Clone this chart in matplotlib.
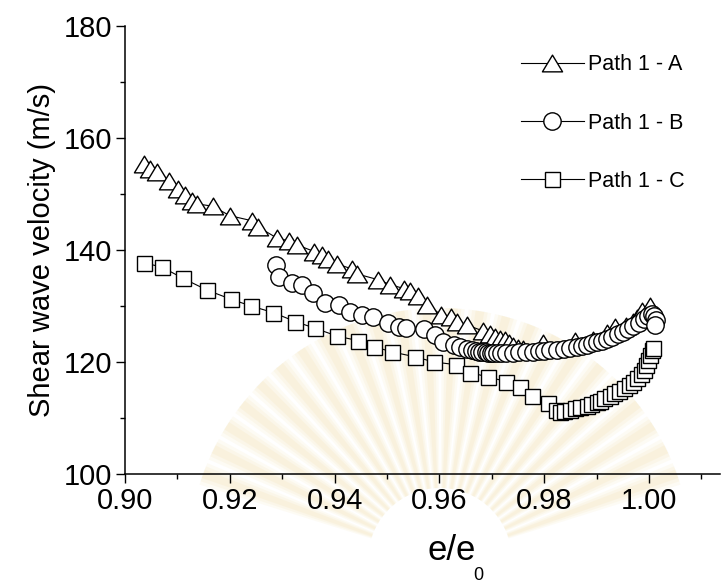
import numpy as np
import matplotlib
matplotlib.use("Agg")
import matplotlib.pyplot as plt
from matplotlib.path import Path
from matplotlib.patches import Wedge
from matplotlib.ticker import MultipleLocator

plt.rcParams['font.family'] = ['Liberation Sans', 'DejaVu Sans']

# Path 1 - A (triangles)
a_ratio = [0.9036, 0.9048, 0.9062, 0.9084, 0.9102, 0.9115, 0.9127, 0.9137, 0.9167,
           0.9200, 0.9242, 0.9254, 0.9290, 0.9313, 0.9328, 0.9361, 0.9375, 0.9388,
           0.9404, 0.9433, 0.9443, 0.9482, 0.9506, 0.9532, 0.9544, 0.9560, 0.9576,
           0.9604, 0.9623, 0.9633, 0.9652, 0.9684, 0.9697, 0.9706, 0.9715, 0.9725,
           0.9733, 0.9741, 0.9750, 0.9760, 0.9798, 0.9859, 0.9894, 0.9919, 0.9935,
           0.9957, 0.9970, 0.9977, 0.9986, 1.0001]
a_vs = [155.3, 154.4, 153.9, 152.2, 150.9, 149.7, 148.8, 148.2, 147.8,
        146.1, 145.2, 144.1, 142.1, 141.6, 140.9, 139.7, 139.0, 138.3,
        137.5, 136.6, 135.7, 134.7, 133.8, 133.1, 132.6, 131.7, 130.2,
        128.4, 128.1, 127.1, 126.6, 125.5, 125.0, 124.5, 124.1, 123.9,
        123.3, 122.9, 122.5, 122.3, 123.3, 123.7, 124.0, 125.2, 126.3,
        126.4, 127.2, 127.8, 129.1, 130.0]

# Path 1 - B (circles)
b_ratio = [0.9288, 0.9293, 0.9318, 0.9337, 0.9359, 0.9382, 0.9409, 0.9429, 0.9452,
           0.9474, 0.9501, 0.9522, 0.9536, 0.9571, 0.9592, 0.9607, 0.9627, 0.9640,
           0.9652, 0.9662, 0.9670, 0.9676, 0.9682, 0.9688, 0.9693, 0.9698, 0.9703,
           0.9710, 0.9718, 0.9728, 0.9740, 0.9752, 0.9765, 0.9778, 0.9790, 0.9800,
           0.9812, 0.9825, 0.9838, 0.9850, 0.9862, 0.9872, 0.9882, 0.9892, 0.9900,
           0.9910, 0.9920, 0.9930, 0.9940, 0.9950, 0.9960, 0.9970, 0.9980, 0.9990,
           0.9998, 1.0005, 1.0010, 1.0013, 1.0012]
b_vs = [137.3, 135.2, 134.0, 133.7, 132.3, 130.6, 130.2, 128.9, 128.4,
        128.0, 126.9, 126.3, 126.0, 125.8, 124.8, 123.6, 123.0, 122.6,
        122.3, 122.1, 121.9, 121.8, 121.7, 121.7, 121.6, 121.6, 121.6,
        121.6, 121.6, 121.6, 121.6, 121.7, 121.7, 121.8, 121.9, 122.0,
        122.1, 122.2, 122.3, 122.5, 122.7, 122.9, 123.1, 123.3, 123.5,
        123.8, 124.1, 124.5, 125.0, 125.4, 125.9, 126.4, 127.0, 127.6,
        128.2, 128.5, 128.2, 127.4, 126.6]

# Path 1 - C (squares)
c_ratio = [0.9036, 0.9071, 0.9111, 0.9157, 0.9202, 0.9240, 0.9283, 0.9325, 0.9363,
           0.9405, 0.9445, 0.9476, 0.9509, 0.9554, 0.9589, 0.9632, 0.9659, 0.9693,
           0.9728, 0.9754, 0.9776, 0.9807, 0.9823, 0.9830, 0.9838, 0.9849, 0.9858,
           0.9868, 0.9881, 0.9890, 0.9900, 0.9907, 0.9915, 0.9925, 0.9933, 0.9942,
           0.9952, 0.9962, 0.9970, 0.9977, 0.9985, 0.9991, 0.9995, 0.9998, 1.0002,
           1.0005, 1.0007]
c_vs = [137.7, 136.9, 134.9, 132.8, 131.2, 130.0, 128.8, 127.2, 126.0,
        124.6, 123.8, 122.7, 121.8, 120.9, 120.0, 119.5, 118.1, 117.3,
        116.5, 115.5, 114.0, 112.6, 111.4, 111.0, 111.3, 111.5, 111.7,
        111.9, 112.2, 112.5, 112.8, 113.1, 113.5, 114.0, 114.4, 114.8,
        115.3, 115.9, 116.5, 117.1, 117.8, 118.6, 119.5, 120.3, 121.2,
        122.1, 122.5]

series_labels = ["Path 1 - A", "Path 1 - B", "Path 1 - C"]
x_ticks = [0.90, 0.92, 0.94, 0.96, 0.98, 1.00]
y_ticks = [100, 120, 140, 160, 180]

W, H = 721, 585
fig = plt.figure(figsize=(W / 100, H / 100), dpi=100)

# soft emblem rays in the background (pixel coordinates, origin bottom-left)
bg = fig.add_axes([0, 0, 1, 1], zorder=-5)
bg.set_xlim(0, W)
bg.set_ylim(0, H)
bg.axis("off")
cx, cy = 440, 25
for ang in np.linspace(20, 160, 24):
    for half, a in ((2.6, 0.10), (1.8, 0.12), (1.0, 0.14)):
        bg.add_patch(Wedge((cx, cy), 252, ang - half, ang + half, width=180,
                           facecolor="#efd99a", edgecolor="none", alpha=a))

ax = fig.add_axes([125 / W, 1 - 474 / H, 595 / W, (474 - 25.7) / H])
ax.patch.set_alpha(0)

tri = Path([(0, 0.83), (-1, -0.83), (1, -0.83), (0, 0.83)],
           [Path.MOVETO, Path.LINETO, Path.LINETO, Path.CLOSEPOLY])

common = dict(color="black", lw=0.8, markerfacecolor="white",
              markeredgecolor="black", markeredgewidth=1.0)
ax.plot(a_ratio, a_vs, marker=tri, ms=14.5, label=series_labels[0], **common)
ax.plot(b_ratio, b_vs, marker="o", ms=12.5, label=series_labels[1], **common)
ax.plot(c_ratio, c_vs, marker="s", ms=10.8, label=series_labels[2], **common)

ax.set_xlim(0.90, 0.90 + 595 / 5240)
ax.set_ylim(100, 180)
ax.set_xticks(x_ticks)
ax.set_xticklabels([f"{v:.2f}" for v in x_ticks])
ax.set_yticks(y_ticks)
ax.xaxis.set_minor_locator(MultipleLocator(0.01))
ax.yaxis.set_minor_locator(MultipleLocator(10))
ax.tick_params(which="major", direction="out", length=6.5, width=1.0,
               labelsize=21, pad=3)
ax.tick_params(which="minor", direction="out", length=3.5, width=1.0)
for s in ("top", "right"):
    ax.spines[s].set_visible(False)
for s in ("left", "bottom"):
    ax.spines[s].set_linewidth(1.1)

ax.set_ylabel("Shear wave velocity (m/s)", fontsize=21, labelpad=5)
fig.text(452 / W, 1 - 551 / H, "e/e", fontsize=25, ha="center", va="center")
fig.text(478 / W, 1 - 576 / H, "0", fontsize=13, ha="center", va="center")

ax.legend(loc="upper right", bbox_to_anchor=(0.955, 0.955), frameon=False,
          fontsize=15.5, handlelength=2.9, labelspacing=1.72, handletextpad=0.2,
          borderaxespad=0.0)

fig.savefig("out.png", dpi=100)
